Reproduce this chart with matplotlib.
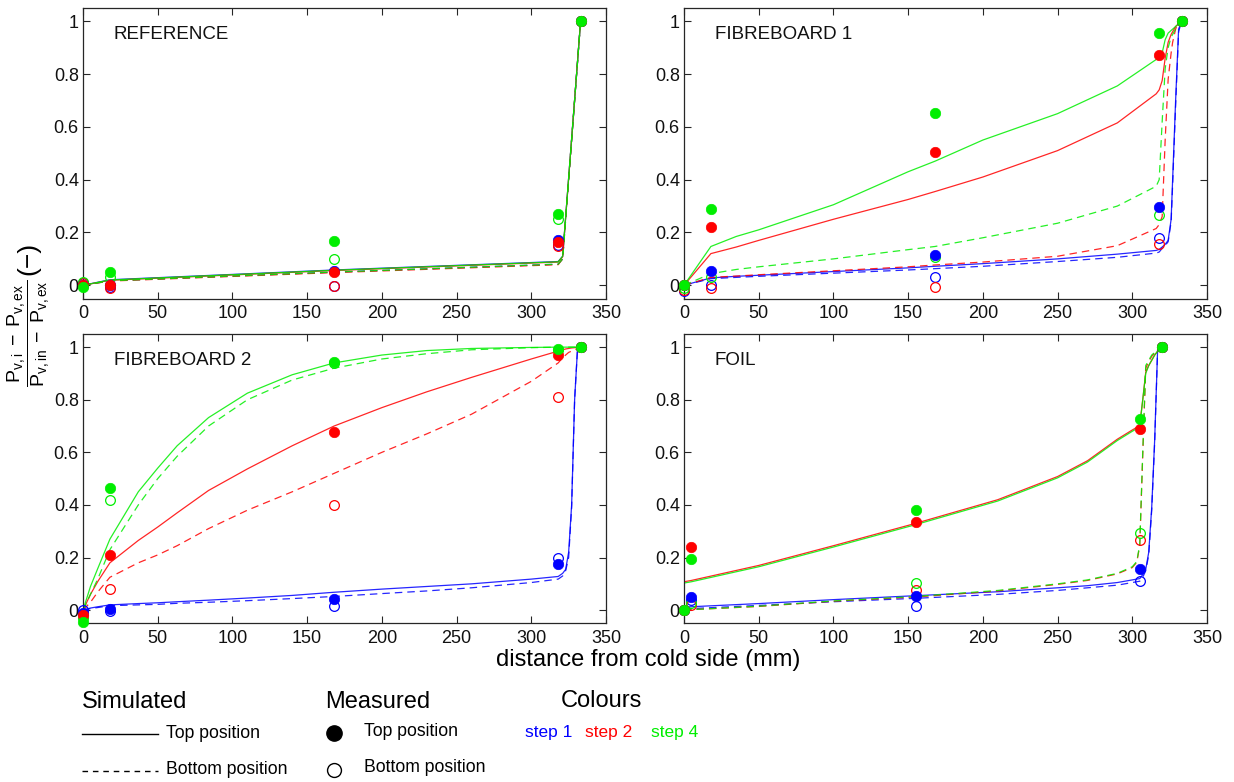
import matplotlib
matplotlib.use("Agg")
import matplotlib.pyplot as plt
from matplotlib.lines import Line2D
import numpy as np

plt.rcParams["font.family"] = ["Liberation Sans", "DejaVu Sans"]
plt.rcParams["mathtext.fontset"] = "custom"
plt.rcParams["mathtext.rm"] = "Liberation Sans"
plt.rcParams["mathtext.it"] = "Liberation Sans"

# ---- REFERENCE ----
ref_sim_x = [0, 18, 168, 318, 321, 333]
ref_top_s1 = [0, 0.021, 0.058, 0.090, 0.110, 1.0]
ref_top_s2 = [0, 0.019, 0.056, 0.088, 0.108, 1.0]
ref_top_s4 = [0, 0.020, 0.057, 0.089, 0.110, 1.0]
ref_bot_s1 = [0, 0.017, 0.050, 0.080, 0.100, 1.0]
ref_bot_s2 = [0, 0.016, 0.048, 0.078, 0.100, 1.0]
ref_bot_s4 = [0, 0.017, 0.050, 0.080, 0.100, 1.0]

ref_meas_x = [0, 18, 168, 318, 333]
ref_mtop_s1 = [0.0, 0.0, 0.056, 0.172, 1.0]
ref_mtop_s2 = [0.0, 0.003, 0.050, 0.164, 1.0]
ref_mtop_s4 = [-0.005, 0.050, 0.169, 0.270, 1.0]
ref_mbot_s1 = [0.010, -0.008, -0.004, 0.154, 1.0]
ref_mbot_s2 = [0.008, -0.011, -0.004, 0.150, 1.0]
ref_mbot_s4 = [0.012, 0.030, 0.100, 0.252, 1.0]

# ---- FIBREBOARD 1 ----
fb1_sim_x = [0, 18, 35, 50, 100, 150, 168, 200, 250, 290, 316, 318, 320, 322, 324, 326, 327, 329, 331, 333]
fb1_top_s1 = [0, .028, .034, .038, .052, .066, .072, .082, .100, .118, .132, .136, .145, .155, .170, .250, .400, .700, .970, 1.0]
fb1_top_s2 = [0, .120, .145, .170, .250, .325, .355, .410, .510, .615, .725, .740, .775, .860, .920, .950, .960, .980, .990, 1.0]
fb1_top_s4 = [0, .147, .185, .210, .305, .430, .470, .550, .650, .755, .855, .865, .880, .930, .955, .965, .970, .980, .990, 1.0]
fb1_bot_s1 = [0, .025, .030, .034, .046, .058, .063, .072, .090, .106, .122, .126, .140, .150, .165, .240, .380, .680, .960, 1.0]
fb1_bot_s2 = [0, .030, .035, .040, .055, .070, .077, .088, .110, .150, .215, .230, .260, .550, .780, .880, .920, .970, 1.0, 1.0]
fb1_bot_s4 = [0, .044, .060, .070, .100, .135, .147, .180, .235, .300, .375, .400, .620, .820, .900, .940, .950, .970, .990, 1.0]

fb1_meas_x = [0, 18, 168, 318, 333]
fb1_mtop_s1 = [0.0, 0.053, 0.115, 0.296, 1.0]
fb1_mtop_s2 = [0.0, 0.220, 0.505, 0.872, 1.0]
fb1_mtop_s4 = [0.0, 0.288, 0.654, 0.956, 1.0]
fb1_mbot_s1 = [-0.020, 0.003, 0.030, 0.179, 1.0]
fb1_mbot_s2 = [-0.018, -0.010, -0.006, 0.157, 1.0]
fb1_mbot_s4 = [-0.010, 0.030, 0.106, 0.267, 1.0]

# ---- FIBREBOARD 2 ----
fb2_sim_x = [0, 5, 10, 18, 37, 50, 63, 84, 110, 140, 168, 200, 230, 260, 300, 318, 321, 323, 325, 327, 329, 331, 333]
fb2_top_s1 = [0, .008, .013, .020, .025, .028, .032, .038, .046, .056, .068, .080, .090, .100, .118, .128, .140, .155, .220, .400, .800, 1.0, 1.0]
fb2_top_s2 = [0, .060, .110, .180, .265, .316, .370, .455, .537, .625, .700, .770, .830, .885, .955, .985, .990, .993, .995, .997, .998, .999, 1.0]
fb2_top_s4 = [0, .090, .160, .270, .450, .540, .625, .732, .825, .895, .940, .970, .987, .995, .999, 1.0, 1.0, 1.0, 1.0, 1.0, 1.0, 1.0, 1.0]
fb2_bot_s1 = [0, .006, .010, .017, .020, .022, .026, .030, .036, .044, .052, .063, .073, .085, .105, .118, .130, .150, .200, .390, .800, 1.0, 1.0]
fb2_bot_s2 = [0, .030, .070, .125, .180, .210, .245, .310, .380, .450, .520, .600, .670, .745, .870, .940, .960, .970, .980, .985, .990, .995, 1.0]
fb2_bot_s4 = [0, .060, .120, .230, .400, .500, .585, .700, .800, .875, .920, .955, .975, .990, .998, 1.0, 1.0, 1.0, 1.0, 1.0, 1.0, 1.0, 1.0]

fb2_meas_x = [0, 18, 168, 318, 333]
fb2_mtop_s1 = [-0.010, 0.003, 0.044, 0.177, 1.0]
fb2_mtop_s2 = [-0.020, 0.210, 0.678, 0.972, 1.0]
fb2_mtop_s4 = [-0.044, 0.463, 0.944, 0.994, 1.0]
fb2_mbot_s1 = [0.0, -0.004, 0.015, 0.200, 1.0]
fb2_mbot_s2 = [-0.015, 0.082, 0.400, 0.812, 1.0]
fb2_mbot_s4 = [-0.030, 0.420, 0.940, 0.988, 1.0]

# ---- FOIL ----
foil_sim_x = [0, 5, 50, 100, 155, 210, 250, 270, 290, 300, 303, 305, 307, 309, 311, 313, 315, 317, 320]
foil_top_s1 = [.012, .013, .025, .040, .055, .070, .085, .093, .105, .115, .118, .120, .135, .155, .220, .390, .650, 1.0, 1.0]
foil_top_s2 = [.108, .113, .170, .245, .330, .420, .508, .568, .650, .685, .695, .705, .800, .905, .930, .950, .970, .985, 1.0]
foil_top_s4 = [.103, .108, .165, .240, .325, .415, .503, .563, .645, .680, .690, .700, .800, .900, .930, .950, .970, .985, 1.0]
foil_bot_s1 = [.005, .006, .018, .032, .045, .060, .075, .085, .095, .105, .108, .110, .125, .150, .210, .380, .640, 1.0, 1.0]
foil_bot_s2 = [0, .002, .014, .034, .050, .073, .098, .113, .138, .162, .182, .245, .590, .920, .945, .965, .978, .988, 1.0]
foil_bot_s4 = [0, .002, .015, .035, .052, .075, .100, .115, .140, .165, .185, .250, .600, .930, .950, .970, .980, .990, 1.0]

foil_meas_x = [0, 5, 155, 305, 320]
foil_mtop_s1 = [0.0, 0.050, 0.053, 0.158, 1.0]
foil_mtop_s2 = [0.0, 0.242, 0.335, 0.688, 1.0]
foil_mtop_s4 = [0.0, 0.193, 0.379, 0.726, 1.0]
foil_mbot_s1 = [0.0, 0.038, 0.015, 0.110, 1.0]
foil_mbot_s2 = [0.0, 0.019, 0.078, 0.265, 1.0]
foil_mbot_s4 = [0.0, 0.028, 0.105, 0.293, 1.0]

panel_names = ["REFERENCE", "FIBREBOARD 1", "FIBREBOARD 2", "FOIL"]
step_colors = ["#0000ff", "#ff0000", "#00ee00"]
step_names = ["step 1", "step 2", "step 4"]

panels = [
    (ref_sim_x, [ref_top_s1, ref_top_s2, ref_top_s4], [ref_bot_s1, ref_bot_s2, ref_bot_s4],
     ref_meas_x, [ref_mtop_s1, ref_mtop_s2, ref_mtop_s4], [ref_mbot_s1, ref_mbot_s2, ref_mbot_s4]),
    (fb1_sim_x, [fb1_top_s1, fb1_top_s2, fb1_top_s4], [fb1_bot_s1, fb1_bot_s2, fb1_bot_s4],
     fb1_meas_x, [fb1_mtop_s1, fb1_mtop_s2, fb1_mtop_s4], [fb1_mbot_s1, fb1_mbot_s2, fb1_mbot_s4]),
    (fb2_sim_x, [fb2_top_s1, fb2_top_s2, fb2_top_s4], [fb2_bot_s1, fb2_bot_s2, fb2_bot_s4],
     fb2_meas_x, [fb2_mtop_s1, fb2_mtop_s2, fb2_mtop_s4], [fb2_mbot_s1, fb2_mbot_s2, fb2_mbot_s4]),
    (foil_sim_x, [foil_top_s1, foil_top_s2, foil_top_s4], [foil_bot_s1, foil_bot_s2, foil_bot_s4],
     foil_meas_x, [foil_mtop_s1, foil_mtop_s2, foil_mtop_s4], [foil_mbot_s1, foil_mbot_s2, foil_mbot_s4]),
]

W, H = 1234, 782
fig = plt.figure(figsize=(W / 100, H / 100), dpi=100)

def px(x, y):
    return x / W, 1 - y / H

boxes = [(83, 8, 606, 298.5), (684, 8, 1207, 298.5),
         (83, 334, 606, 623.3), (684, 334, 1207, 623.3)]

frame_col = "#262626"
for i, (sx, tops, bots, mx, mtops, mbots) in enumerate(panels):
    x0, y0, x1, y1 = boxes[i]
    ax = fig.add_axes([x0 / W, 1 - y1 / H, (x1 - x0) / W, (y1 - y0) / H])
    for c, yt, yb in zip(step_colors, tops, bots):
        ax.plot(sx, yt, color=c, lw=0.9, alpha=0.85)
        ax.plot(sx, yb, color=c, lw=0.9, alpha=0.85, dashes=(6, 4))
    for c, yt, yb in zip(step_colors, mtops, mbots):
        ax.plot(mx, yb, "o", ms=7, mfc="none", mec=c, mew=0.9, clip_on=False, zorder=3)
        ax.plot(mx, yt, "o", ms=7.5, mfc=c, mec=c, mew=0.5, clip_on=False, zorder=4)
    ax.set_xlim(0, 350)
    ax.set_ylim(-0.05, 1.05)
    ax.set_xticks(np.arange(0, 351, 50))
    ax.set_yticks([0, 0.2, 0.4, 0.6, 0.8, 1.0])
    ax.set_yticklabels(["0", "0.2", "0.4", "0.6", "0.8", "1"])
    ax.tick_params(direction="in", top=True, right=True, length=5, width=0.8,
                   labelsize=13, colors=frame_col, labelcolor="#111111")
    ax.tick_params(axis="y", pad=3)
    ax.tick_params(axis="x", pad=5)
    for sp in ax.spines.values():
        sp.set_color(frame_col)
        sp.set_linewidth(0.9)
    ax.text(0.059, 0.91, panel_names[i], transform=ax.transAxes, fontsize=13.5,
            va="center", ha="left", color="#111111")

# axis labels
fig.text(*px(648, 660), "distance from cold side (mm)", fontsize=17,
         ha="center", va="center")
fig.text(*px(29, 333),
         r"$\dfrac{\mathrm{P}_{\mathrm{v,i}}\;-\;\mathrm{P}_{\mathrm{v,ex}}}{\mathrm{P}_{\mathrm{v,in}}\;-\;\mathrm{P}_{\mathrm{v,ex}}}$",
         fontsize=14, rotation=90, ha="center", va="center")
fig.text(*px(28, 258), "(\u2212)", fontsize=19, rotation=90, ha="center", va="center")

# legend block
fig.text(*px(82, 702), "Simulated", fontsize=17, va="center", ha="left")
fig.add_artist(Line2D([82 / W, 158 / W], [1 - 734 / H] * 2, color="black", lw=1.0))
fig.add_artist(Line2D([82 / W, 158 / W], [1 - 771 / H] * 2, color="black", lw=1.0, dashes=(4, 3.5)))
fig.text(*px(166, 734), "Top position", fontsize=12.7, va="center", ha="left")
fig.text(*px(166, 770), "Bottom position", fontsize=12.7, va="center", ha="left")

fig.text(*px(325, 702), "Measured", fontsize=17, va="center", ha="left")
fig.add_artist(Line2D([334 / W], [1 - 733 / H], marker="o", ms=11, mfc="black", mec="black"))
fig.add_artist(Line2D([334 / W], [1 - 770 / H], marker="o", ms=10, mfc="none", mec="black", mew=1.0))
fig.text(*px(364, 732), "Top position", fontsize=12.7, va="center", ha="left")
fig.text(*px(364, 768), "Bottom position", fontsize=12.7, va="center", ha="left")

fig.text(*px(601, 701), "Colours", fontsize=17, va="center", ha="center")
for xs, name, c in zip([525, 585, 651], step_names, step_colors):
    fig.text(*px(xs, 732), name, fontsize=12.5, va="center", ha="left", color=c)

fig.savefig("out.png", dpi=100)
